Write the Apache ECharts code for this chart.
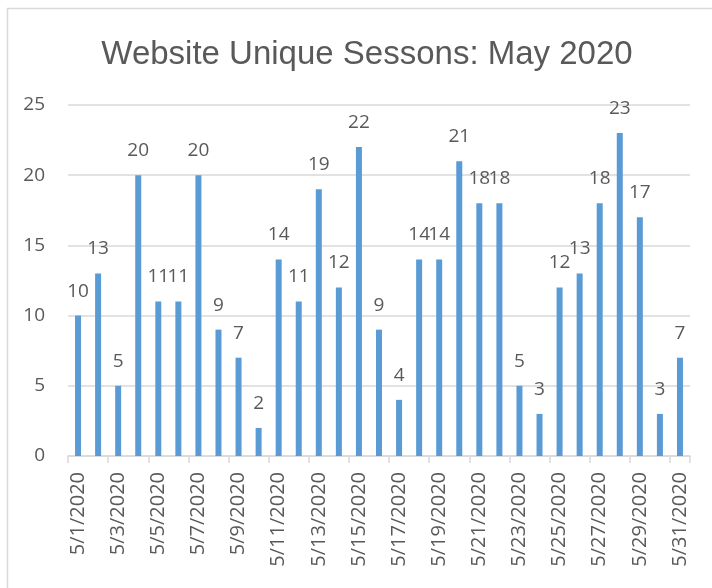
<!DOCTYPE html>
<html>
<head>
<meta charset="utf-8">
<script src="https://cdn.jsdelivr.net/npm/echarts@6/dist/echarts.min.js"></script>
<style>
html,body{margin:0;padding:0;background:#fff;}
#chart{width:712px;height:588px;}
</style>
</head>
<body>
<div id="chart"></div>
<script>
var categories = ['5/1/2020','5/2/2020','5/3/2020','5/4/2020','5/5/2020','5/6/2020','5/7/2020','5/8/2020','5/9/2020','5/10/2020','5/11/2020','5/12/2020','5/13/2020','5/14/2020','5/15/2020','5/16/2020','5/17/2020','5/18/2020','5/19/2020','5/20/2020','5/21/2020','5/22/2020','5/23/2020','5/24/2020','5/25/2020','5/26/2020','5/27/2020','5/28/2020','5/29/2020','5/30/2020','5/31/2020'];
var sessions = [10,13,5,20,11,11,20,9,7,2,14,11,19,12,22,9,4,14,14,21,18,18,5,3,12,13,18,23,17,3,7];
var yTicks = [0,5,10,15,20,25];

var FONT = '"Liberation Sans", Arial, sans-serif';
var FONT2 = '"Open Sans", "Liberation Sans", sans-serif';
var TXT = '#595959';
var chart = echarts.init(document.getElementById('chart'));
chart.setOption({
  animation: false,
  backgroundColor: '#ffffff',
  title: {
    text: 'Website Unique Sessons: May 2020',
    left: 362, top: 33, textAlign: 'center',
    textStyle: {fontFamily: FONT, fontSize: 33, fontWeight: 'normal', color: TXT}
  },
  graphic: [{
    type: 'rect', left: 5, top: 6, silent: true,
    shape: {width: 720, height: 600},
    style: {fill: 'none', stroke: '#d9d9d9', lineWidth: 1.5}
  }],
  grid: {left: 68, right: 22, top: 105, bottom: 132},
  xAxis: {
    type: 'category',
    data: categories,
    boundaryGap: true,
    axisLine: {lineStyle: {color: '#d9d9d9', width: 1.5}},
    axisTick: {show: true, interval: 1, length: 7, lineStyle: {color: '#d9d9d9', width: 1.5}},
    axisLabel: {interval: 1, rotate: 90, margin: 16, fontFamily: FONT2, fontSize: 20, color: TXT}
  },
  yAxis: {
    type: 'value',
    min: yTicks[0], max: yTicks[yTicks.length - 1], interval: 5,
    axisLine: {show: false},
    axisTick: {show: false},
    splitLine: {lineStyle: {color: '#d9d9d9', width: 1.5}},
    axisLabel: {margin: 23, fontFamily: FONT2, fontSize: 19, color: TXT}
  },
  series: [{
    type: 'bar',
    data: sessions,
    barWidth: 6,
    itemStyle: {color: '#5B9BD5'},
    label: {show: true, position: 'top', distance: 15, fontFamily: FONT2, fontSize: 19, color: TXT}
  }]
});
</script>
</body>
</html>
